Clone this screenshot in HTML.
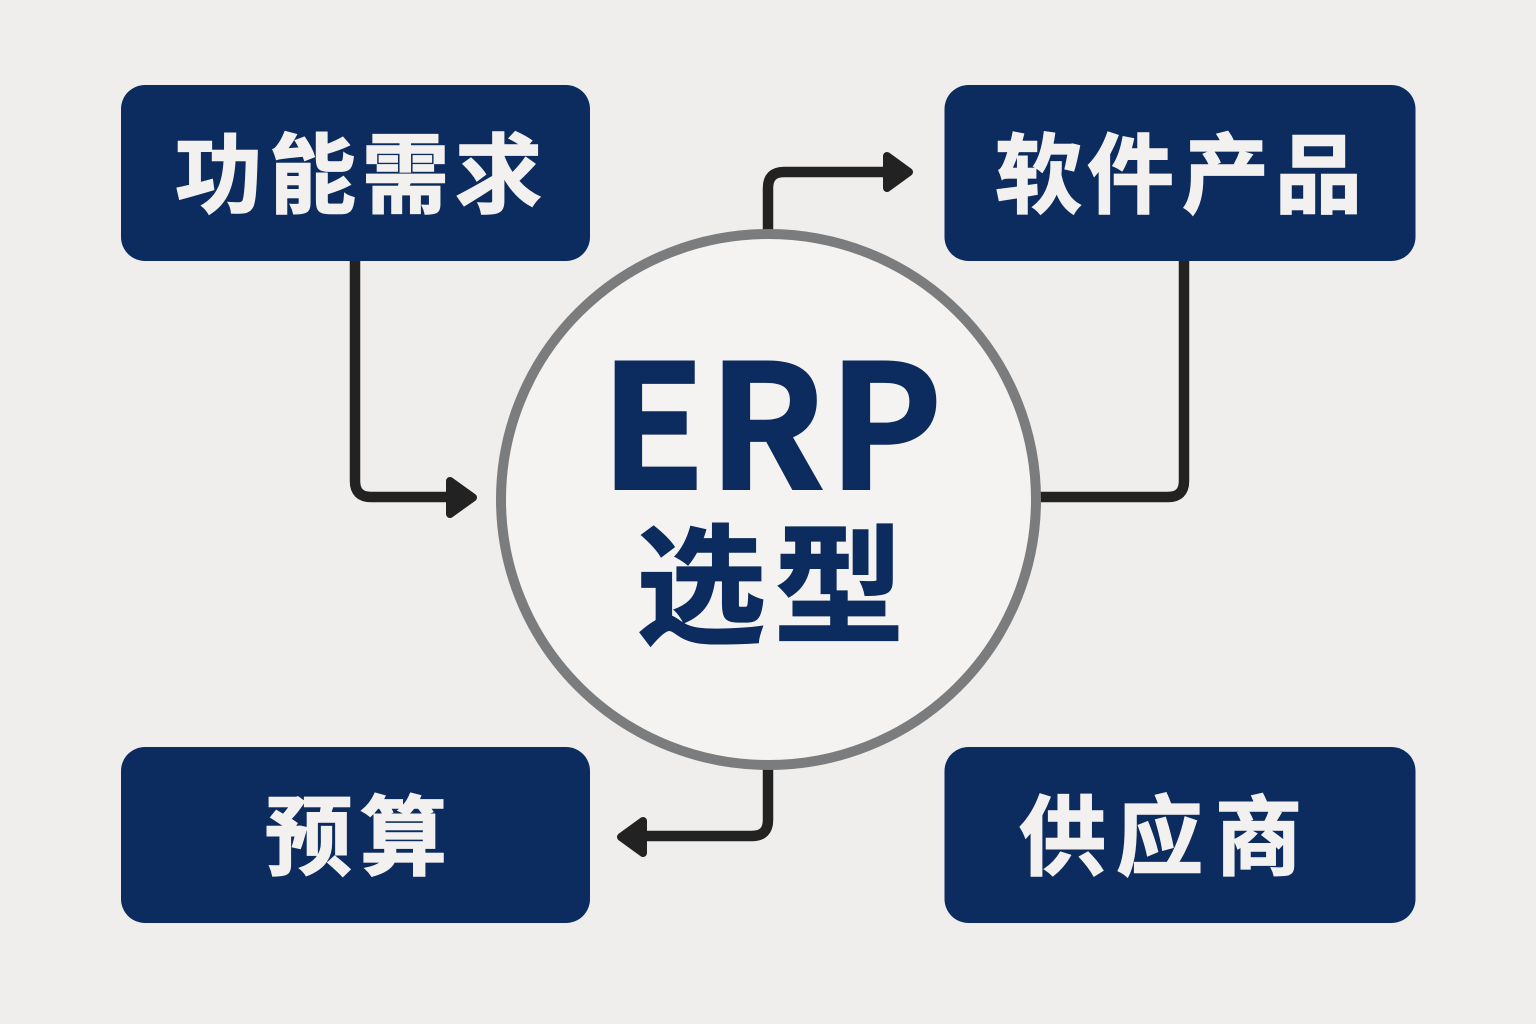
<!DOCTYPE html>
<html lang="zh">
<head>
<meta charset="utf-8">
<style>
html,body{margin:0;padding:0;width:1536px;height:1024px;overflow:hidden;background:#efeeec;}
svg{display:block;}
text{font-family:"Noto Sans CJK SC","Liberation Sans",sans-serif;font-weight:700;}
</style>
</head>
<body>
<svg width="1536" height="1024" viewBox="0 0 1536 1024" xmlns="http://www.w3.org/2000/svg">
<rect width="1536" height="1024" fill="#efeeec"/>
<rect x="121" y="85" width="469" height="176" rx="24" fill="#0c2b5e"/>
<rect x="944.5" y="85" width="471" height="176" rx="24" fill="#0c2b5e"/>
<rect x="121" y="747" width="469" height="176" rx="24" fill="#0c2b5e"/>
<rect x="944.5" y="747" width="471" height="176" rx="24" fill="#0c2b5e"/>
<g fill="none" stroke="#222222" stroke-width="10.500">
<path d="M355 261V481Q355 497 371 497H450"/>
<path d="M768 232V188Q768 172 784 172H888"/>
<path d="M1184 261V481Q1184 497 1168 497H1040"/>
<path d="M768 768V820Q768 836 752 836H644"/>
</g>
<g fill="#222222" stroke="#222222" stroke-width="8" stroke-linejoin="round">
<path d="M450 481L473 497.500L450 514Z"/>
<path d="M887 156L909 172L887 188Z"/>
<path d="M643 821L621 837L643 853Z"/>
</g>
<ellipse cx="768.500" cy="499.500" rx="267.500" ry="265.500" fill="#f4f3f1" stroke="#7b7c7d" stroke-width="10"/>
<g fill="#f2f1ef" stroke="#f2f1ef" stroke-width="1.500" font-size="87">
<text x="175 269 362 455" y="206">功能需求</text>
<text x="995 1087 1182 1275" y="206">软件产品</text>
<text x="265 360" y="868">预算</text>
<text x="1019 1116 1215" y="868">供应商</text>
</g>
<text x="600 708 828" y="489" font-size="172" fill="#0c2b5e" stroke="#0c2b5e" stroke-width="2">ERP</text>
<text x="636 774" y="633" font-size="130" fill="#0c2b5e" stroke="#0c2b5e" stroke-width="1.500">选型</text>
</svg>
</body>
</html>
